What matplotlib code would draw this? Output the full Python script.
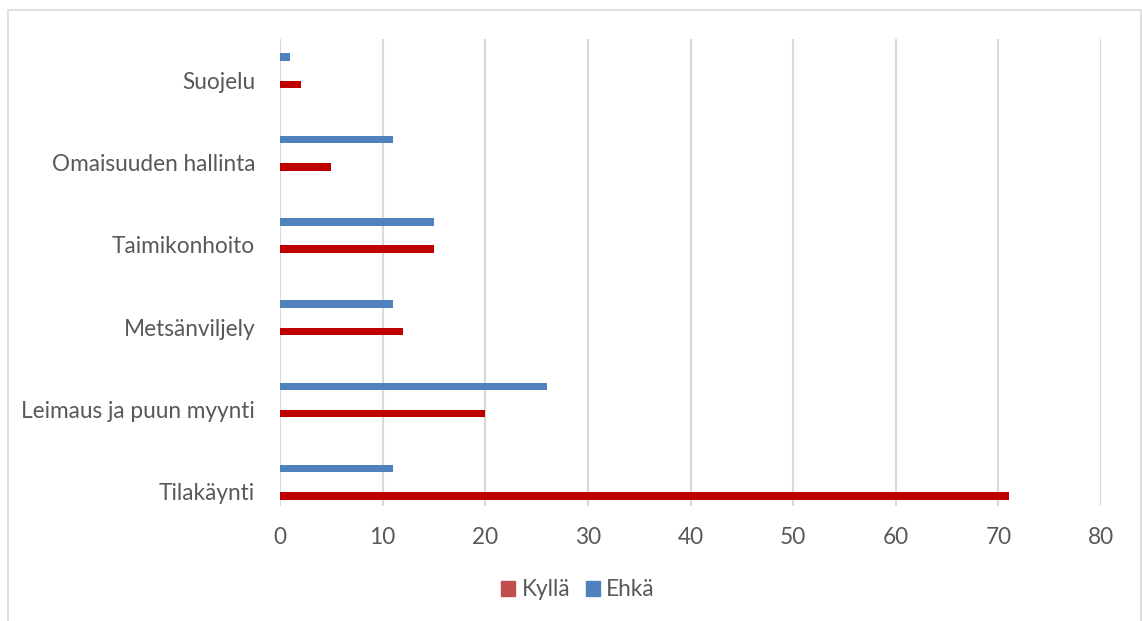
import numpy as np
import matplotlib.pyplot as plt
from matplotlib.patches import Rectangle

# ── data (bottom to top, as drawn) ───────────────────────────────────────────
categories = ["Tilakäynti", "Leimaus ja puun myynti", "Metsänviljely",
              "Taimikonhoito", "Omaisuuden hallinta", "Suojelu"]
kylla = [71, 20, 12, 15, 5, 2]
ehka  = [11, 26, 11, 15, 11, 1]
xticks = [0, 10, 20, 30, 40, 50, 60, 70, 80]

plt.rcParams['font.family'] = ['Lato', 'DejaVu Sans']
fs = 16.3

fig = plt.figure(figsize=(11.42, 6.21), dpi=100)
ax = fig.add_axes([280/1142, (621-506)/621, 821/1142, 467/621])

pos = np.arange(len(categories))
h = 0.092
ax.barh(pos - 0.052, kylla, height=h, color="#C00000", label="Kyllä", zorder=3)
ax.barh(pos + 0.28, ehka, height=h, color="#4F81BD", label="Ehkä", zorder=3)

ax.set_xlim(0, 80)
ax.set_ylim(-0.174, 5.5)
ax.set_xticks(xticks)
ax.set_yticks(pos)
ax.set_yticklabels(categories)
ax.tick_params(axis='both', length=0, labelsize=fs, colors="#595959")
ax.tick_params(axis='x', pad=15)
ax.tick_params(axis='y', pad=18)
ax.grid(axis='x', color="#D9D9D9", linewidth=1.5, zorder=0)
for s in ax.spines.values():
    s.set_visible(False)

# legend with lighter swatches like the original
handles = [Rectangle((0, 0), 1, 1, color="#C0504D"), Rectangle((0, 0), 1, 1, color="#4F81BD")]
fig.legend(handles, ["Kyllä", "Ehkä"], loc="center", bbox_to_anchor=(578/1142, 1 - 590/621),
           ncol=2, frameon=False, fontsize=fs, handlelength=0.6, handleheight=0.6,
           handletextpad=0.3, columnspacing=0.7, labelcolor="#595959")

# outer chart frame
fig.patches.append(Rectangle((8/1142, -0.02), (1141-8)/1142, 1 - 10/621 + 0.02,
                             transform=fig.transFigure, fill=False,
                             edgecolor="#D9D9D9", linewidth=1.2))

fig.savefig("out.png", dpi=100)
